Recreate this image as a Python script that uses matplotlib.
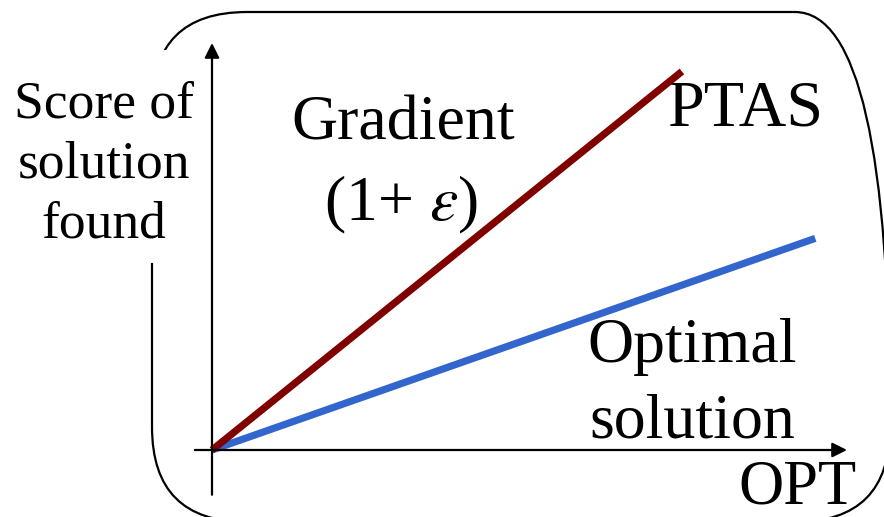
import matplotlib.pyplot as plt
from matplotlib.patches import FancyBboxPatch, Rectangle

plt.rcParams['font.family'] = ['Liberation Serif', 'DejaVu Serif']
plt.rcParams['mathtext.fontset'] = 'stix'

# line end points in axis units (origin at the axes corner)
gradient_x = [0, 0.74]
gradient_y = [0, 0.93]
optimal_x = [0, 0.95]
optimal_y = [0, 0.52]

y_label = ['Score of', 'solution', 'found']
x_label = 'OPT'
gradient_label = ['Gradient', '(1+ $\\varepsilon$)']
ptas_label = 'PTAS'
optimal_label = ['Optimal', 'solution']

W, H = 884, 517
fig = plt.figure(figsize=(W / 100, H / 100), dpi=100)

# background layer in pixel units (y measured from the top)
bg = fig.add_axes([0, 0, 1, 1])
bg.set_xlim(0, W)
bg.set_ylim(0, H)
bg.axis('off')
box = FancyBboxPatch((152, H - 522), 738, 510,
                     boxstyle='round,pad=0,rounding_size=95',
                     fc='none', ec='black', lw=1.6, zorder=1)
bg.add_patch(box)
# the y label sits on a white box that hides part of the frame
bg.add_patch(Rectangle((0, H - 263), 206, 213, fc='white', ec='none', zorder=2))


def put(x, y, s, fs):
    bg.text(x, H - y, s, ha='center', va='baseline', fontsize=fs, zorder=3)


for i, line in enumerate(y_label):
    put(104, 118 + 60 * i, line, 38.5)
put(403, 140, gradient_label[0], 46)
put(401, 220, gradient_label[1], 46)
put(745, 125, ptas_label, 47.5)
put(692, 362, optimal_label[0], 46)
put(692, 437, optimal_label[1], 46)
put(797, 503, x_label, 45)

# chart axes
left, right, bottom, top = 212, 847, 450, 43
ax = fig.add_axes([left / W, (H - bottom) / H, (right - left) / W, (bottom - top) / H])
ax.set_xlim(0, 1)
ax.set_ylim(0, 1)
ax.axis('off')
ax.patch.set_alpha(0)

arrow = dict(arrowstyle='-|>', mutation_scale=22, lw=1.6, color='black',
             shrinkA=0, shrinkB=0)
ax.annotate('', xy=(1, 0), xytext=(-0.027, 0), xycoords='axes fraction',
            arrowprops=arrow, annotation_clip=False)
ax.annotate('', xy=(0, 1), xytext=(0, -0.11), xycoords='axes fraction',
            arrowprops=arrow, annotation_clip=False)

ax.plot(optimal_x, optimal_y, color='#3366CC', lw=5.2, solid_capstyle='butt', clip_on=False)
ax.plot(gradient_x, gradient_y, color='#800000', lw=5.2, solid_capstyle='butt', clip_on=False)

fig.savefig('out.png', dpi=100)
